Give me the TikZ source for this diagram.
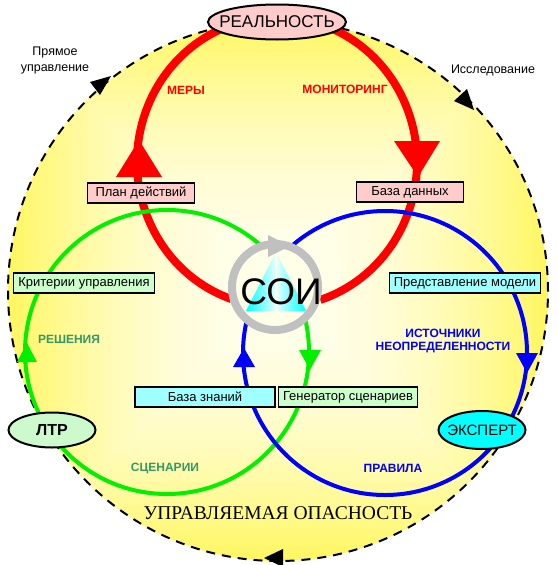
\documentclass[tikz,border=0pt]{standalone}
\usepackage{fontspec}
\setmainfont{Liberation Sans}
\newfontfamily\serifcaps{Liberation Serif}
\usetikzlibrary{shapes.geometric,positioning,calc}

\definecolor{realpink}{RGB}{255,204,204}
\definecolor{ltrgreen}{RGB}{204,250,204}
\definecolor{expcyan}{RGB}{0,255,255}
\definecolor{boxcyan}{RGB}{160,255,255}
\definecolor{boxgreen}{RGB}{204,255,204}
\definecolor{tagred}{RGB}{255,0,0}
\definecolor{taggreen}{RGB}{51,153,102}
\definecolor{tagblue}{RGB}{0,0,255}
\definecolor{loopgreen}{RGB}{0,240,0}
\definecolor{ringgray}{RGB}{192,192,192}
\definecolor{coreyellow}{RGB}{255,255,232}

\begin{document}
\begin{tikzpicture}[x=1pt,y=1pt,
    textbox/.style={draw,line width=1.2pt,minimum height=20pt,inner sep=0pt,font=\fontsize{13}{15}\selectfont},
    actor/.style={ellipse,draw,line width=2pt,inner xsep=-9pt,inner ysep=0pt,minimum height=35pt},
    looptag/.style={font=\bfseries\fontsize{12}{13}\selectfont,align=center},
    sidenote/.style={font=\fontsize{12.5}{16}\selectfont,align=center}]

                \useasboundingbox (0,0) rectangle (557,-565);

                \coordinate (bigc) at (278,-291);
                \coordinate (redc) at (277,-162);
                \coordinate (grc) at (167,-352);
                \coordinate (blc) at (385,-353);
                \coordinate (soi) at (275,-287);

                \begin{scope}
                    \clip (bigc) circle (270);
                    \foreach \s [evaluate = \s as \pct using {int(8+54*(\s/270)^2)}] in {270,262,...,6}{
                        \fill[yellow!\pct] (bigc) ++(-\s,-\s) rectangle ++(2*\s,2*\s);
                    }
                \end{scope}
                \draw[line width=2pt,dash pattern=on 9pt off 7pt] (bigc) circle (270);
                \foreach \tip/\ba/\bb in {{(111,-76)}/{(90,-82)}/{(100,-95)},
                                          {(474,-110)}/{(454,-101)}/{(467,-89)},
                                          {(264,-558)}/{(283,-549)}/{(283,-567)}}{
                    \fill \tip -- \ba -- \bb -- cycle;
                }

                \draw[tagred,line width=8pt]
                    (redc) ++(251:140 and 145) arc[start angle=251,end angle=-72,x radius=140,y radius=145];
                \fill[tagred] (139,-140) -- (116,-177) -- (162,-177) -- cycle;
                \fill[tagred] (418,-177) -- (394,-141) -- (440,-141) -- cycle;

                \draw[loopgreen,line width=4pt] (grc) circle (142);
                \fill[loopgreen] (27,-343) -- (17,-362) -- (37,-362) -- cycle;
                \fill[loopgreen] (310,-370) -- (299,-350) -- (321,-350) -- cycle;

                \draw[tagblue,line width=4pt] (blc) circle (142);
                \fill[tagblue] (244,-348) -- (233,-367) -- (255,-367) -- cycle;
                \fill[tagblue] (527,-373) -- (516,-353) -- (538,-353) -- cycle;

                \node[textbox,fill=realpink,minimum width=107pt] (plan) at (141,-193) {План действий};
                \node[textbox,fill=realpink,minimum width=107pt] (db) at (410,-192) {База данных};
                \node[textbox,fill=boxgreen,minimum width=141pt] (crit) at (84,-283) {Критерии управления};
                \node[textbox,fill=boxcyan,minimum width=151pt] (model) at (465,-283) {Представление модели};
                \node[textbox,fill=boxcyan,minimum width=140pt] (kb) at (205,-397) {База знаний};
                \node[textbox,fill=boxgreen,minimum width=139pt] (gen) at (348,-397) {Генератор сценариев};

                \fill[coreyellow] (soi) circle (43);
                \shade[left color=cyan,right color=cyan!12] (246,-311) -- (275,-254) -- (275,-311) -- cycle;
                \shade[left color=cyan!12,right color=cyan] (277,-254) -- (306,-311) -- (277,-311) -- cycle;
                \draw[ringgray,line width=8pt] (soi) circle (43);
                \fill[ringgray] ($(soi)+(-7,52)$) -- ($(soi)+(15,41)$) -- ($(soi)+(-7,30)$) -- cycle;
                \node[font=\fontsize{37}{38}\selectfont] (soitext) at (281,-292) {СОИ};

                \node[actor,fill=realpink,minimum width=138pt,font=\fontsize{17}{18}\selectfont] (real) at (277,-22) {РЕАЛЬНОСТЬ};
                \node[actor,fill=ltrgreen,minimum width=87pt,font=\bfseries\fontsize{16}{18}\selectfont] (ltr) at (52,-430) {ЛТР};
                \node[actor,fill=expcyan,minimum width=87pt,minimum height=38pt,font=\fontsize{15}{18}\selectfont] (exp) at (482,-430) {ЭКСПЕРТ};

                \node[sidenote] (direct) at (55,-60) {Прямое\\управление};
                \node[sidenote] (explore) at (493,-70) {Исследование};
                \node[looptag,tagred] (mery) at (186,-90) {МЕРЫ};
                \node[looptag,tagred] (monit) at (345,-89) {МОНИТОРИНГ};
                \node[looptag,taggreen] (dec) at (69,-339) {РЕШЕНИЯ};
                \node[looptag,taggreen] (scen) at (165,-468) {СЦЕНАРИИ};
                \node[looptag,tagblue] (rules) at (393,-468) {ПРАВИЛА};
                \node[looptag,tagblue] (src) at (443,-341) {ИСТОЧНИКИ\\НЕОПРЕДЕЛЕННОСТИ};
                \node[font=\serifcaps\fontsize{19.5}{21}\selectfont] (risk) at (278,-513) {УПРАВЛЯЕМАЯ ОПАСНОСТЬ};

\end{tikzpicture}
\end{document}
